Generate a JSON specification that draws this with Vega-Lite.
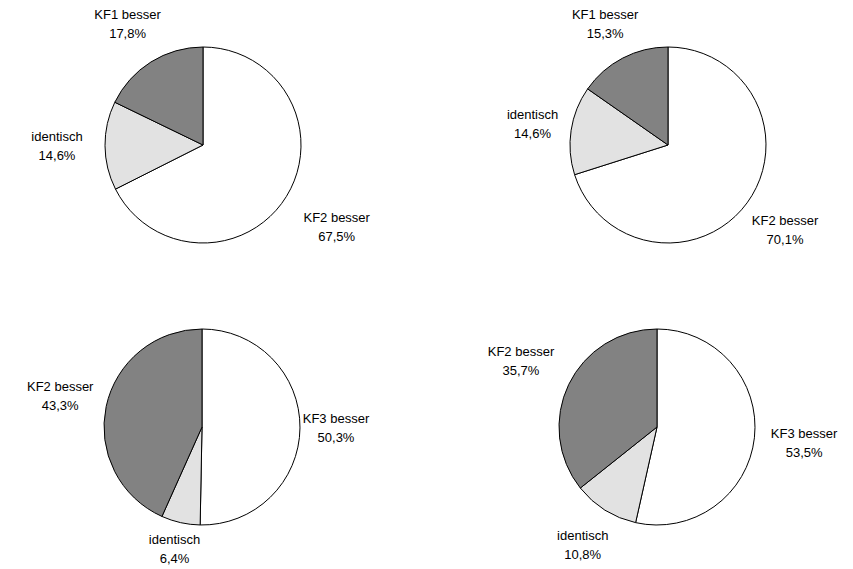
{
  "$schema": "https://vega.github.io/schema/vega-lite/v6.json",
  "padding": 0,
  "bounds": "flush",
  "columns": 2,
  "spacing": {"row": 0, "column": 77},
  "config": {
    "view": {"stroke": null},
    "font": "Liberation Sans"
  },
  "datasets": {
    "werte": [
      {"panel": "oben links", "kategorie": "KF2 besser", "wert": 67.5, "rang": 1, "etikett": "KF2 besser\n67,5%"},
      {"panel": "oben links", "kategorie": "identisch", "wert": 14.6, "rang": 2, "etikett": "identisch\n14,6%"},
      {"panel": "oben links", "kategorie": "KF1 besser", "wert": 17.8, "rang": 3, "etikett": "KF1 besser\n17,8%"},
      {"panel": "oben rechts", "kategorie": "KF2 besser", "wert": 70.1, "rang": 1, "etikett": "KF2 besser\n70,1%"},
      {"panel": "oben rechts", "kategorie": "identisch", "wert": 14.6, "rang": 2, "etikett": "identisch\n14,6%"},
      {"panel": "oben rechts", "kategorie": "KF1 besser", "wert": 15.3, "rang": 3, "etikett": "KF1 besser\n15,3%"},
      {"panel": "unten links", "kategorie": "KF3 besser", "wert": 50.3, "rang": 1, "etikett": "KF3 besser\n50,3%"},
      {"panel": "unten links", "kategorie": "identisch", "wert": 6.4, "rang": 2, "etikett": "identisch\n6,4%"},
      {"panel": "unten links", "kategorie": "KF2 besser", "wert": 43.3, "rang": 3, "etikett": "KF2 besser\n43,3%"},
      {"panel": "unten rechts", "kategorie": "KF3 besser", "wert": 53.5, "rang": 1, "etikett": "KF3 besser\n53,5%"},
      {"panel": "unten rechts", "kategorie": "identisch", "wert": 10.8, "rang": 2, "etikett": "identisch\n10,8%"},
      {"panel": "unten rechts", "kategorie": "KF2 besser", "wert": 35.7, "rang": 3, "etikett": "KF2 besser\n35,7%"}
    ]
  },
  "concat": [
    {
      "width": 406, "height": 290,
      "data": {"name": "werte"},
      "transform": [{"filter": "datum.panel === 'oben links'"}],
      "encoding": {
        "theta": {"field": "wert", "type": "quantitative", "stack": "normalize"},
        "order": {"field": "rang", "type": "quantitative"}
      },
      "layer": [
        {
          "mark": {"type": "arc", "radius": 98, "stroke": "#000000", "strokeWidth": 1},
          "encoding": {
            "color": {"field": "rang", "type": "nominal", "legend": null,
              "scale": {"domain": [1, 2, 3], "range": ["#ffffff", "#e2e2e2", "#828282"]}}
          }
        },
        {
          "mark": {"type": "text", "radius": {"expr": "datum.rang == 1 ? 157 : datum.rang == 2 ? 146 : 142"}, "dy": -9.5, "fontSize": 13, "lineHeight": 19, "lineBreak": "\n", "baseline": "middle", "align": "center", "color": "#000000"},
          "encoding": {"text": {"field": "etikett", "type": "nominal"}}
        }
      ]
    },
    {
      "width": 370, "height": 290,
      "data": {"name": "werte"},
      "transform": [{"filter": "datum.panel === 'oben rechts'"}],
      "encoding": {
        "theta": {"field": "wert", "type": "quantitative", "stack": "normalize"},
        "order": {"field": "rang", "type": "quantitative"}
      },
      "layer": [
        {
          "mark": {"type": "arc", "radius": 98, "stroke": "#000000", "strokeWidth": 1},
          "encoding": {
            "color": {"field": "rang", "type": "nominal", "legend": null,
              "scale": {"domain": [1, 2, 3], "range": ["#ffffff", "#e2e2e2", "#828282"]}}
          }
        },
        {
          "mark": {"type": "text", "radius": {"expr": "datum.rang == 1 ? 145 : datum.rang == 2 ? 137 : 136"}, "dy": -9.5, "fontSize": 13, "lineHeight": 19, "lineBreak": "\n", "baseline": "middle", "align": "center", "color": "#000000"},
          "encoding": {"text": {"field": "etikett", "type": "nominal"}}
        }
      ]
    },
    {
      "width": 404, "height": 274,
      "data": {"name": "werte"},
      "transform": [{"filter": "datum.panel === 'unten links'"}],
      "encoding": {
        "theta": {"field": "wert", "type": "quantitative", "stack": "normalize"},
        "order": {"field": "rang", "type": "quantitative"}
      },
      "layer": [
        {
          "mark": {"type": "arc", "radius": 98, "stroke": "#000000", "strokeWidth": 1},
          "encoding": {
            "color": {"field": "rang", "type": "nominal", "legend": null,
              "scale": {"domain": [1, 2, 3], "range": ["#ffffff", "#e2e2e2", "#828282"]}}
          }
        },
        {
          "mark": {"type": "text", "radius": {"expr": "datum.rang == 1 ? 134 : datum.rang == 2 ? 126 : 145"}, "dy": -9.5, "fontSize": 13, "lineHeight": 19, "lineBreak": "\n", "baseline": "middle", "align": "center", "color": "#000000"},
          "encoding": {"text": {"field": "etikett", "type": "nominal"}}
        }
      ]
    },
    {
      "width": 348, "height": 274,
      "data": {"name": "werte"},
      "transform": [{"filter": "datum.panel === 'unten rechts'"}],
      "encoding": {
        "theta": {"field": "wert", "type": "quantitative", "stack": "normalize"},
        "order": {"field": "rang", "type": "quantitative"}
      },
      "layer": [
        {
          "mark": {"type": "arc", "radius": 98, "stroke": "#000000", "strokeWidth": 1},
          "encoding": {
            "color": {"field": "rang", "type": "nominal", "legend": null,
              "scale": {"domain": [1, 2, 3], "range": ["#ffffff", "#e2e2e2", "#828282"]}}
          }
        },
        {
          "mark": {"type": "text", "radius": {"expr": "datum.rang == 1 ? 148 : datum.rang == 2 ? 140 : 151"}, "dy": -9.5, "fontSize": 13, "lineHeight": 19, "lineBreak": "\n", "baseline": "middle", "align": "center", "color": "#000000"},
          "encoding": {"text": {"field": "etikett", "type": "nominal"}}
        }
      ]
    }
  ]
}
